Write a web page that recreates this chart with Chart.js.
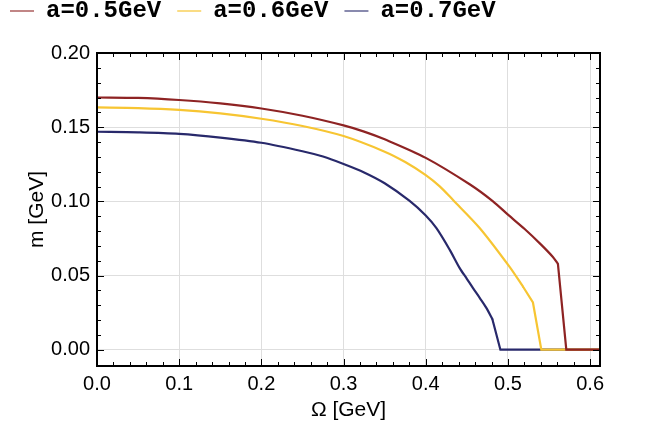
<!DOCTYPE html>
<html>
<head>
<meta charset="utf-8">
<script src="https://cdn.jsdelivr.net/npm/chart.js@4/dist/chart.umd.min.js"></script>
<style>
html,body{margin:0;padding:0;background:#fff;}
#wrap{width:657px;height:433px;}
</style>
</head>
<body>
<div id="wrap"><canvas id="c" width="657" height="433"></canvas></div>
<script>
const seriesNames = ["a=0.5GeV", "a=0.6GeV", "a=0.7GeV"];
const seriesColors = ["#8e2323", "#f7c532", "#28296b"];
const legendColors = ["rgba(142,35,35,0.55)", "rgba(247,197,50,0.6)", "rgba(40,41,107,0.55)"];

const omegaA05 = [0, 0.05, 0.1, 0.15, 0.2, 0.25, 0.3, 0.325, 0.35, 0.4, 0.4534, 0.4818, 0.5, 0.52, 0.54, 0.5547, 0.5608, 0.571, 0.612];
const mA05     = [0.170, 0.1697, 0.1683, 0.1660, 0.1626, 0.1577, 0.1512, 0.1470, 0.1418, 0.1293, 0.1115, 0.1, 0.091, 0.0815, 0.071, 0.0625, 0.0578, 0, 0];

const omegaA06 = [0, 0.05, 0.1, 0.15, 0.2, 0.25, 0.3, 0.35, 0.375, 0.4, 0.417, 0.4332, 0.4658, 0.5018, 0.5182, 0.5304, 0.5406, 0.612];
const mA06     = [0.1633, 0.1629, 0.1617, 0.1593, 0.1557, 0.1508, 0.1440, 0.1335, 0.1265, 0.1177, 0.1101, 0.1009, 0.0819, 0.056, 0.0426, 0.0318, 0, 0];

const omegaA07 = [0, 0.05, 0.1, 0.15, 0.2, 0.25, 0.275, 0.3, 0.325, 0.35, 0.38, 0.4, 0.413, 0.4292, 0.4413, 0.45, 0.4575, 0.4658, 0.4737, 0.481, 0.4908, 0.612];
const mA07     = [0.1469, 0.1465, 0.1455, 0.1430, 0.1395, 0.1338, 0.1302, 0.1252, 0.1195, 0.1122, 0.1005, 0.0905, 0.0819, 0.0673, 0.055, 0.0478, 0.0415, 0.0348, 0.0282, 0.0207, 0, 0];

// index where each curve turns into its straight, sharp-cornered tail
const kinkIndex = [16, 14, 19];

const xTicks = [0, 0.1, 0.2, 0.3, 0.4, 0.5, 0.6];
const yTicks = [0, 0.05, 0.10, 0.15, 0.20];
const xLabel = "Ω [GeV]";
const yLabel = "m [GeV]";

const omegas = [omegaA05, omegaA06, omegaA07];
const masses = [mA05, mA06, mA07];

const datasets = [];
seriesNames.forEach((name, i) => {
  const pts = omegas[i].map((x, j) => ({x: x, y: masses[i][j]}));
  const k = kinkIndex[i];
  datasets.push({
    label: name,
    data: pts.slice(0, k + 1),
    borderColor: seriesColors[i],
    borderWidth: 2.2,
    pointRadius: 0,
    tension: 0.3,
    borderCapStyle: 'round',
    fill: false
  });
  datasets.push({
    label: name + ' tail',
    data: pts.slice(k),
    borderColor: seriesColors[i],
    borderWidth: 2.2,
    pointRadius: 0,
    tension: 0,
    borderJoinStyle: 'miter',
    fill: false
  });
});

const framePlugin = {
  id: 'frame',
  beforeInit(chart) {
    const lg = chart.legend;
    if (lg) {
      const orig = lg.fit;
      lg.fit = function() { orig.call(this); this.height = 70; };
    }
  },
  afterDatasetsDraw(chart) {
    const ctx = chart.ctx;
    const a = chart.chartArea;
    const xs = chart.scales.x, ys = chart.scales.y;
    ctx.save();
    ctx.strokeStyle = '#000';
    ctx.lineWidth = 1;
    ctx.beginPath();
    for (let k = 0; k <= 31; k++) {
      const v = k * 0.02;
      const px = Math.round(xs.getPixelForValue(v)) + 0.5;
      if (px < a.left || px > a.right) continue;
      const major = (k % 5 === 0);
      const L = major ? 7 : 4;
      ctx.moveTo(px, a.bottom); ctx.lineTo(px, a.bottom - L);
      ctx.moveTo(px, a.top); ctx.lineTo(px, a.top + L);
    }
    for (let k = -1; k <= 20; k++) {
      const v = k * 0.01;
      const py = Math.round(ys.getPixelForValue(v)) + 0.5;
      if (py < a.top || py > a.bottom) continue;
      const major = (k % 5 === 0);
      const L = major ? 7 : 4;
      ctx.moveTo(a.left, py); ctx.lineTo(a.left + L, py);
      ctx.moveTo(a.right, py); ctx.lineTo(a.right - L, py);
    }
    ctx.stroke();
    ctx.lineWidth = 2;
    ctx.strokeRect(a.left, a.top, a.right - a.left, a.bottom - a.top);
    ctx.restore();
  }
};

new Chart(document.getElementById('c'), {
  type: 'line',
  data: { datasets: datasets },
  options: {
    responsive: false,
    animation: false,
    layout: { padding: { top: -17, left: -6, right: 57, bottom: 0 } },
    plugins: {
      tooltip: { enabled: false },
      legend: {
        display: true,
        position: 'top',
        align: 'start',
        labels: {
          usePointStyle: true,
          pointStyleWidth: 24,
          padding: 16,
          color: '#000',
          font: { family: '"Liberation Mono", "Courier New", monospace', size: 24, weight: 'bold' },
          generateLabels: (chart) => seriesNames.map((n, i) => ({
            text: n,
            fillStyle: legendColors[i],
            strokeStyle: legendColors[i],
            lineWidth: 2,
            pointStyle: 'line',
            hidden: false,
            fontColor: '#000',
            datasetIndex: i * 2
          }))
        }
      }
    },
    scales: {
      x: {
        type: 'linear',
        min: 0,
        max: 0.612,
        afterBuildTicks: (s) => { s.ticks = xTicks.map(v => ({value: v})); },
        afterFit: (s) => { s.height = 433 - 366; },
        grid: { color: '#dedede', lineWidth: 1, drawTicks: false },
        border: { display: false },
        ticks: {
          color: '#000',
          padding: 6,
          maxRotation: 0,
          font: { family: '"Liberation Sans", Arial, sans-serif', size: 20 },
          callback: (v) => Number(v).toFixed(1)
        },
        title: {
          display: true,
          text: xLabel,
          color: '#000',
          font: { family: '"Liberation Sans", Arial, sans-serif', size: 21 },
          padding: { top: 0, bottom: 10 }
        }
      },
      y: {
        type: 'linear',
        min: -0.011,
        max: 0.2,
        afterBuildTicks: (s) => { s.ticks = yTicks.map(v => ({value: v})); },
        afterFit: (s) => { s.width = 103; },
        grid: { color: '#dedede', lineWidth: 1, drawTicks: false },
        border: { display: false },
        ticks: {
          color: '#000',
          padding: 7,
          font: { family: '"Liberation Sans", Arial, sans-serif', size: 20 },
          callback: (v) => Number(v).toFixed(2)
        },
        title: {
          display: true,
          text: yLabel,
          color: '#000',
          font: { family: '"Liberation Sans", Arial, sans-serif', size: 21 },
          padding: { top: 31, bottom: 0 }
        }
      }
    }
  },
  plugins: [framePlugin]
});
</script>
</body>
</html>
